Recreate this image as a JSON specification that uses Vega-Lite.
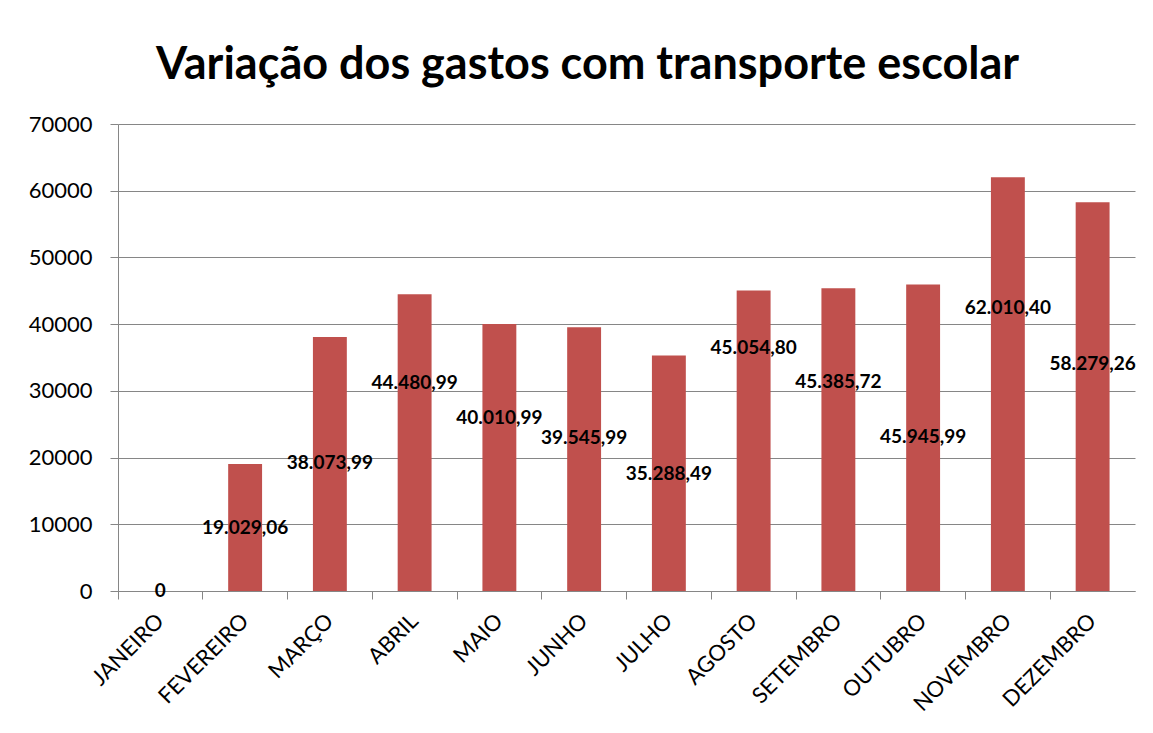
{
  "$schema": "https://vega.github.io/schema/vega-lite/v6.json",
  "width": 1017,
  "height": 467,
  "autosize": {"type": "none"},
  "padding": {"left": 118, "top": 124, "right": 18, "bottom": 142},
  "background": "white",
  "title": {
    "text": "Variação dos gastos com transporte escolar",
    "font": "Lato",
    "fontSize": 45,
    "fontWeight": "bold",
    "color": "black",
    "anchor": "middle",
    "dx": -39,
    "baseline": "alphabetic",
    "offset": -11
  },
  "data": {
    "values": [
      {"mes": "JANEIRO", "valor": 0, "rotulo": "0", "label_y": 0},
      {"mes": "FEVEREIRO", "valor": 19029.06, "rotulo": "19.029,06", "label_y": 9444},
      {"mes": "MARÇO", "valor": 38073.99, "rotulo": "38.073,99", "label_y": 19188},
      {"mes": "ABRIL", "valor": 44480.99, "rotulo": "44.480,99", "label_y": 31180},
      {"mes": "MAIO", "valor": 40010.99, "rotulo": "40.010,99", "label_y": 25933},
      {"mes": "JUNHO", "valor": 39545.99, "rotulo": "39.545,99", "label_y": 22935},
      {"mes": "JULHO", "valor": 35288.49, "rotulo": "35.288,49", "label_y": 17539},
      {"mes": "AGOSTO", "valor": 45054.80, "rotulo": "45.054,80", "label_y": 36426},
      {"mes": "SETEMBRO", "valor": 45385.72, "rotulo": "45.385,72", "label_y": 31330},
      {"mes": "OUTUBRO", "valor": 45945.99, "rotulo": "45.945,99", "label_y": 23085},
      {"mes": "NOVEMBRO", "valor": 62010.40, "rotulo": "62.010,40", "label_y": 42422},
      {"mes": "DEZEMBRO", "valor": 58279.26, "rotulo": "58.279,26", "label_y": 34028}
    ]
  },
  "encoding": {
    "x": {
      "field": "mes",
      "type": "nominal",
      "sort": null,
      "scale": {"paddingInner": 0.6, "paddingOuter": 0.3},
      "axis": {
        "title": null,
        "bandPosition": -0.75,
        "domainColor": "#868686",
        "tickColor": "#868686",
        "tickSize": 8,
        "labelAngle": -45,
        "labelFont": "Lato",
        "labelFontSize": 22,
        "labelColor": "black",
        "labelPadding": 18,
        "labelAlign": "right",
        "labelBaseline": "middle"
      }
    },
    "y": {
      "type": "quantitative",
      "scale": {"domain": [0, 70000], "nice": false},
      "axis": {
        "title": null,
        "values": [0, 10000, 20000, 30000, 40000, 50000, 60000, 70000],
        "format": "d",
        "grid": true,
        "gridColor": "#868686",
        "domainColor": "#868686",
        "tickColor": "#868686",
        "tickSize": 8,
        "labelFont": "Lato",
        "labelFontSize": 22,
        "labelColor": "black",
        "labelPadding": 18
      }
    }
  },
  "layer": [
    {
      "mark": {"type": "bar", "color": "#C0504D"},
      "encoding": {
        "y": {"field": "valor"}
      }
    },
    {
      "mark": {"type": "text", "font": "Lato", "fontWeight": "bold", "fontSize": 19, "color": "black", "align": "center", "baseline": "middle"},
      "encoding": {
        "y": {"field": "label_y"},
        "text": {"field": "rotulo"}
      }
    }
  ],
  "config": {"view": {"stroke": null}}
}
